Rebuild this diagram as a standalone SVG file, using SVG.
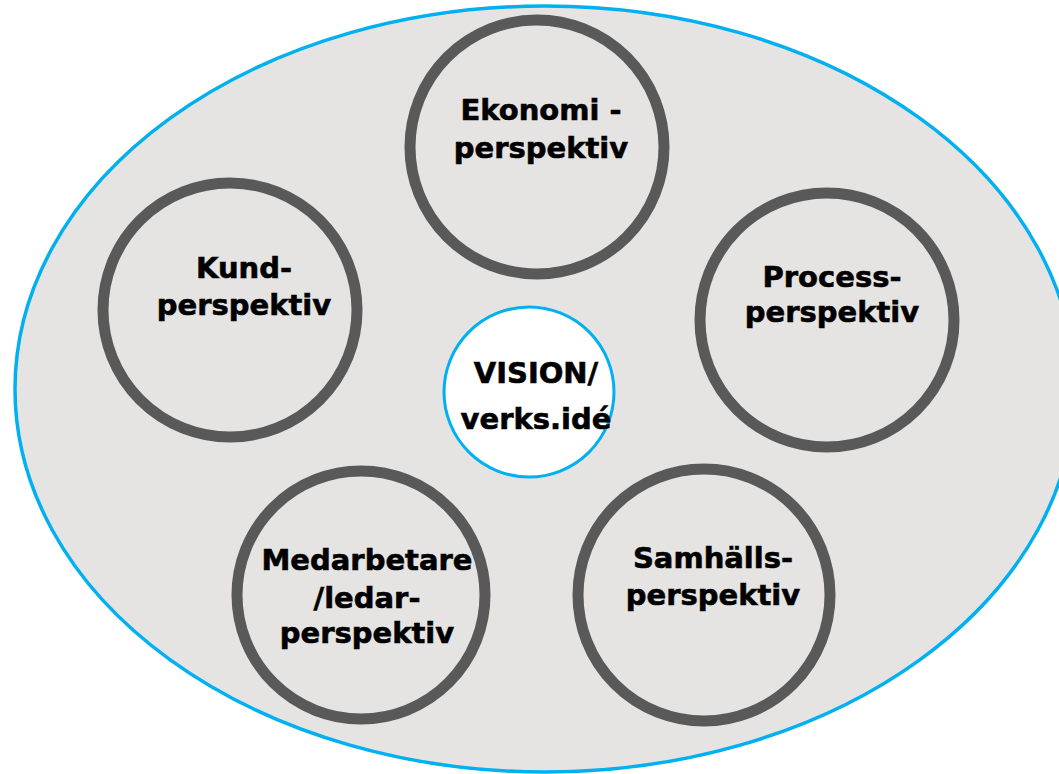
<svg xmlns="http://www.w3.org/2000/svg" width="1059" height="774" viewBox="0 0 1059 774">
<style>
.ring{fill:none;stroke:#595959;stroke-width:11}
.t{font-family:"DejaVu Sans",Verdana,sans-serif;font-weight:bold;font-size:29px;fill:#000;stroke:#000;stroke-width:0.6;text-anchor:middle}
</style>
<rect width="1059" height="774" fill="#fff"/>
<g id="outer">
<ellipse cx="545" cy="389" rx="530" ry="383" fill="#E5E4E3" stroke="#00B0F0" stroke-width="3.5"/>
</g>
<g id="ekonomi">
<circle class="ring" cx="537" cy="147" r="127"/>
<text class="t" x="541" y="120">Ekonomi -</text>
<text class="t" x="541" y="158">perspektiv</text>
</g>
<g id="kund">
<circle class="ring" cx="230" cy="310" r="127"/>
<text class="t" x="244" y="278">Kund-</text>
<text class="t" x="244" y="315">perspektiv</text>
</g>
<g id="process">
<circle class="ring" cx="827" cy="320" r="127"/>
<text class="t" x="832" y="287">Process-</text>
<text class="t" x="832" y="322">perspektiv</text>
</g>
<g id="medarbetare">
<circle class="ring" cx="361" cy="595" r="124"/>
<text class="t" x="367" y="570">Medarbetare</text>
<text class="t" x="367" y="608">/ledar-</text>
<text class="t" x="367" y="643">perspektiv</text>
</g>
<g id="samhalls">
<circle class="ring" cx="704" cy="595" r="126"/>
<text class="t" x="713" y="568">Samhälls-</text>
<text class="t" x="713" y="605">perspektiv</text>
</g>
<g id="vision">
<circle cx="529" cy="392" r="85" fill="#fff" stroke="#00B0F0" stroke-width="3"/>
<text class="t" x="536" y="383">VISION/</text>
<text class="t" x="536" y="429">verks.idé</text>
</g>
<g id="connectors"/>
</svg>
